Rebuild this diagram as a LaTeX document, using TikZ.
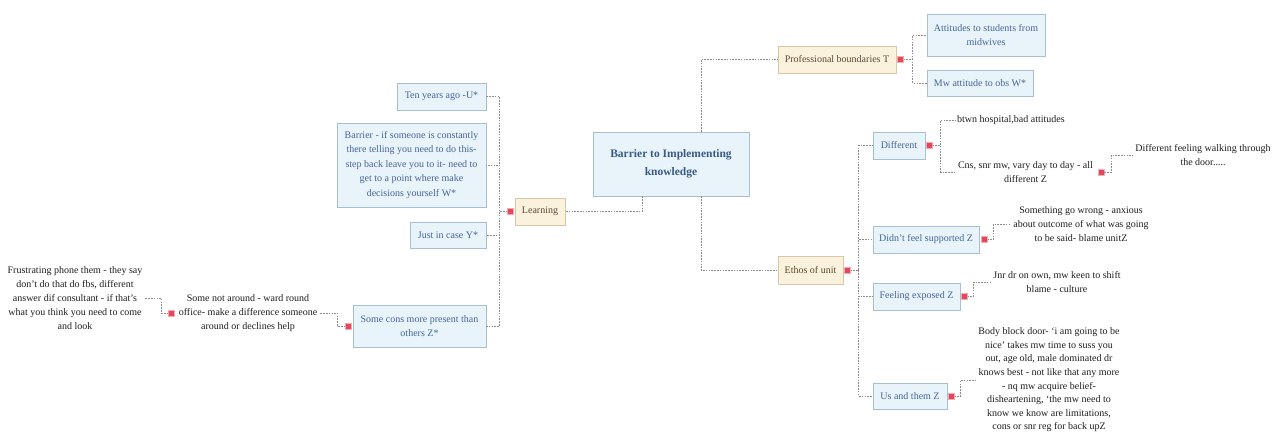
\documentclass[tikz,border=0pt]{standalone}
\usepackage{fontspec}
\setmainfont{Liberation Serif}
\usetikzlibrary{shadows}

\definecolor{boxfill}{HTML}{E8F3FA}
\definecolor{boxline}{HTML}{A8BFD1}
\definecolor{boxtext}{HTML}{46669A}
\definecolor{roottext}{HTML}{3A5A86}
\definecolor{tanfill}{HTML}{FBF2DD}
\definecolor{tanline}{HTML}{D6C7A6}
\definecolor{tantext}{HTML}{5A4A30}
\definecolor{wirecol}{HTML}{8C8C8C}
\definecolor{knobcol}{HTML}{E5475A}

\tikzset{
  topic/.style={draw=boxline, fill=boxfill, text=boxtext, line width=0.7pt,
    font=\fontsize{10}{14.5}\selectfont, align=center, inner sep=0pt,
    drop shadow={shadow xshift=1pt, shadow yshift=-1pt, fill=black!18}},
  maintopic/.style={topic, draw=tanline, fill=tanfill, text=tantext},
  roottopic/.style={topic, text=roottext, font=\fontsize{11.5}{18}\selectfont\bfseries},
  loose/.style={text=black!88, font=\fontsize{10}{14}\selectfont, align=center, inner sep=2pt},
  knob/.style={rectangle, fill=knobcol, draw=knobcol!45, line width=0.5pt, inner sep=0pt, minimum size=6pt},
  wire/.style={draw=wirecol, line width=0.6pt, dash pattern=on 1.6pt off 1.2pt},
}

\begin{document}
\begin{tikzpicture}[x=1pt, y=-1pt]
\fill[white] (0,0) rectangle (1274,433);
\useasboundingbox (0,0) rectangle (1274,433);

% central topic
\node[roottopic, minimum width=156pt, minimum height=64pt] (root) at (671,164)
  {Barrier to Implementing\\knowledge};

% right side: professional boundaries
\node[maintopic, minimum width=118pt, minimum height=27pt] (prof) at (837,59.5) {Professional boundaries T};
\node[knob] (kprof) at ([xshift=4pt]prof.east) {};
\node[topic, minimum width=118pt, minimum height=42pt] (att) at (986,35) {Attitudes to students from\\midwives};
\node[topic, minimum width=106pt, minimum height=26pt] (mwatt) at (980,83) {Mw attitude to obs W*};

% right side: ethos of unit
\node[maintopic, minimum width=65pt, minimum height=28pt] (ethos) at (810.5,270) {Ethos of unit};
\node[knob] (kethos) at ([xshift=4pt]ethos.east) {};

\node[topic, minimum width=52pt, minimum height=27pt] (diff) at (899,145.5) {Different};
\node[knob] (kdiff) at ([xshift=4pt]diff.east) {};
\node[loose, anchor=west] (btwn) at (955,120) {btwn hospital,bad attitudes};
\node[loose] (cns) at (1025.5,172) {Cns, snr mw, vary day to day - all\\different Z};
\node[knob] (kcns) at ([xshift=6pt]cns.east) {};
\node[loose] (walk) at (1203,155) {Different feeling walking through\\the door.....};

\node[topic, minimum width=106pt, minimum height=27pt] (didnt) at (926,239.5) {Didn't feel supported Z};
\node[knob] (kdidnt) at ([xshift=5pt]didnt.east) {};
\node[loose] (wrong) at (1081,224) {Something go wrong - anxious\\about outcome of what was going\\to be said- blame unitZ};

\node[topic, minimum width=87pt, minimum height=27pt] (feel) at (916.5,296.5) {Feeling exposed Z};
\node[knob] (kfeel) at ([xshift=4pt]feel.east) {};
\node[loose] (jnr) at (1057,282) {Jnr dr on own, mw keen to shift\\blame - culture};

\node[topic, minimum width=74pt, minimum height=26pt] (us) at (910,396) {Us and them Z};
\node[knob] (kus) at ([xshift=4pt]us.east) {};
\node[loose, font=\fontsize{10}{13.6}\selectfont] (body) at (1049,380)
  {Body block door- ‘i am going to be\\nice’ takes mw time to suss you\\out, age old, male dominated dr\\knows best - not like that any more\\- nq mw acquire belief-\\disheartening, ‘the mw need to\\know we know are limitations,\\cons or snr reg for back upZ};

% left side: learning
\node[maintopic, minimum width=50pt, minimum height=27pt] (learn) at (540,211.5) {Learning};
\node[knob] (klearn) at ([xshift=-4pt]learn.west) {};

\node[topic, minimum width=89pt, minimum height=27pt] (ten) at (441.5,96.5) {Ten years ago -U*};
\node[topic, minimum width=149pt, minimum height=84pt] (barrier) at (411.5,165)
  {Barrier - if someone is constantly\\there telling you need to do this-\\step back leave you to it- need to\\get to a point where make\\decisions yourself W*};
\node[topic, minimum width=76pt, minimum height=26pt] (just) at (448,235) {Just in case Y*};
\node[topic, minimum width=133pt, minimum height=42pt] (cons) at (419.5,326) {Some cons more present than\\others Z*};
\node[knob] (kcons) at ([xshift=-4pt]cons.west) {};

\node[loose] (notaround) at (248,313) {Some not around - ward round\\office- make a difference someone\\around or declines help};
\node[knob] (knot) at ([xshift=-5pt]notaround.west) {};
\node[loose] (frust) at (75,298) {Frustrating phone them - they say\\don't do that do fbs, different\\answer dif consultant - if that's\\what you think you need to come\\and look};

% connectors from the central topic
\draw[wire] ([xshift=30pt]root.north) |- (prof.west);
\draw[wire] ([xshift=30pt]root.south) |- (ethos.west);
\draw[wire] ([xshift=-29pt]root.south) |- (learn.east);

% professional boundaries branch
\draw[wire] (kprof.east) -- ++(9,0) |- (att.west);
\draw[wire] (kprof.east) -- ++(9,0) |- (mwatt.west);

% ethos branch
\draw[wire] (kethos.east) -- ++(8,0) |- (diff.west);
\draw[wire] (kethos.east) -- ++(8,0) |- (didnt.west);
\draw[wire] (kethos.east) -- ++(8,0) |- (feel.west);
\draw[wire] (kethos.east) -- ++(8,0) |- (us.west);
\draw[wire] (kdiff.east) -- ++(8,0) |- (btwn.west);
\draw[wire] (kdiff.east) -- ++(8,0) |- (cns.west);
\draw[wire] (kcns.east) -- ++(7,0) |- (walk.west);
\draw[wire] (kdidnt.east) -- ++(6,0) |- (wrong.west);
\draw[wire] (kfeel.east) -- ++(6,0) |- (jnr.west);
\draw[wire] (kus.east) -- ++(6,0) |- (body.west);

% learning branch
\draw[wire] (klearn.west) -- ++(-8,0) |- (ten.east);
\draw[wire] (klearn.west) -- ++(-8,0) |- (barrier.east);
\draw[wire] (klearn.west) -- ++(-8,0) |- (just.east);
\draw[wire] (klearn.west) -- ++(-8,0) |- (cons.east);
\draw[wire] (kcons.west) -- ++(-8,0) |- (notaround.east);
\draw[wire] (knot.west) -- ++(-7,0) |- (frust.east);
\end{tikzpicture}
\end{document}
